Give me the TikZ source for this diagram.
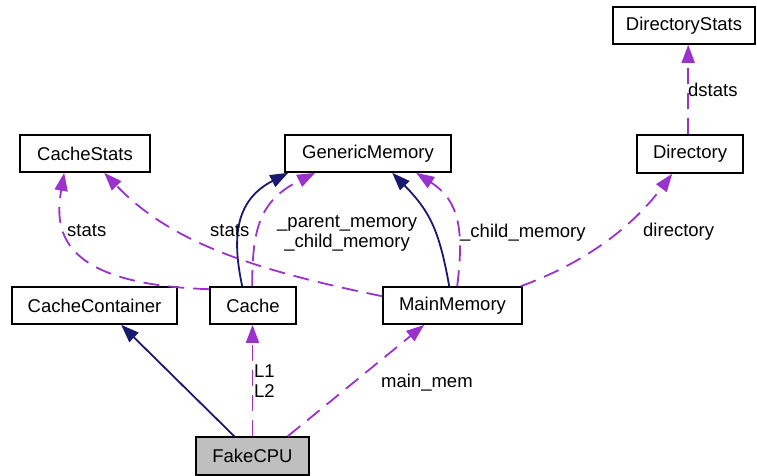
\documentclass[tikz,border=0pt]{standalone}
\usepackage{fontspec}
\setmainfont{Liberation Sans}
\usetikzlibrary{arrows.meta}
\definecolor{inherit}{HTML}{191970}
\definecolor{usage}{HTML}{9A32CD}
\definecolor{focus}{HTML}{BFBFBF}
\tikzset{
  classbox/.style={draw=black, line width=1.6pt, fill=white, inner sep=0pt, align=center},
  isa/.style={line width=1.8pt, draw=inherit, -{Triangle[length=18pt,width=13pt,fill=inherit]}},
  uses/.style={line width=1.8pt, draw=usage, dash pattern=on 16pt off 9pt, -{Triangle[length=18pt,width=13pt,fill=usage]}},
  lbl/.style={inner sep=0pt, anchor=base west}
}
\begin{document}
\begin{tikzpicture}[x=1pt, y=-1pt, font=\fontsize{18.5pt}{20pt}\selectfont]
\useasboundingbox (0,0) rectangle (757,475);

% classes
\node[classbox, minimum width=142pt, minimum height=37pt] (dstats) at (684,25.5) {DirectoryStats};
\node[classbox, minimum width=106pt, minimum height=38pt] (dir) at (690,154) {Directory};
\node[classbox, minimum width=166pt, minimum height=37pt] (gen) at (368,153.5) {GenericMemory};
\node[classbox, minimum width=130pt, minimum height=37pt] (cstats) at (85,153.5) {CacheStats};
\node[classbox, minimum width=165pt, minimum height=37pt] (ccont) at (94.5,305.5) {CacheContainer};
\node[classbox, minimum width=86pt, minimum height=37pt] (cache) at (253,305.5) {Cache};
\node[classbox, minimum width=139pt, minimum height=37pt] (mm) at (452.5,305.5) {MainMemory};
\node[classbox, fill=focus, minimum width=113pt, minimum height=38pt] (cpu) at (252.5,456) {FakeCPU};

% inheritance
\draw[isa] ([xshift=39pt]cpu.north west) -- ([xshift=110pt]ccont.south west);
\draw[isa] ([xshift=33pt]cache.north west) .. controls +(-10,-47) and +(-54,28) .. ([xshift=4pt]gen.south west);
\draw[isa] ([xshift=67pt]mm.north west) .. controls +(-10,-57) and +(37,38) .. ([xshift=108pt]gen.south west);

% usage relations
\draw[uses] (cpu.north) -- (cpu.north |- cache.south);
\draw[uses] ([xshift=-22pt]cpu.north east) -- ([xshift=42pt]mm.south west);
\draw[uses] ([yshift=-3pt]cache.north west) .. controls +(-150,-5) and +(-10,58) .. ([xshift=45pt]cstats.south west);
\draw[uses] ([yshift=-10pt]mm.north west) .. controls +(-133,-27) and +(65,68) .. ([xshift=85pt]cstats.south west);
\draw[uses] ([xshift=43pt]cache.north west) .. controls +(0,-57) and +(-56,28) .. ([xshift=31pt]gen.south west);
\draw[uses] ([xshift=75pt]mm.north west) .. controls +(7,-57) and +(43,28) .. ([xshift=132pt]gen.south west);
\draw[uses] ([xshift=-2pt]mm.north east) .. controls +(60,-22) and +(-43,57) .. ([xshift=36pt]dir.south west);
\draw[uses] ([xshift=52pt]dir.north west) -- ([xshift=52pt]dir.north west |- dstats.south);

% labels
\node[lbl] (lstats1) at (67,236) {stats};
\node[lbl] (lstats2) at (210,236) {stats};
\node[lbl, align=center] (lparent) at (277,247) {\_parent\_memory\\\_child\_memory};
\node[lbl] (lchild) at (460,237) {\_child\_memory};
\node[lbl] (ldir) at (643,236) {directory};
\node[lbl] (ldstats) at (688,96) {dstats};
\node[lbl, align=left] (lL) at (254,397) {L1\\L2};
\node[lbl] (lmain) at (381,387) {main\_mem};
\end{tikzpicture}
\end{document}
